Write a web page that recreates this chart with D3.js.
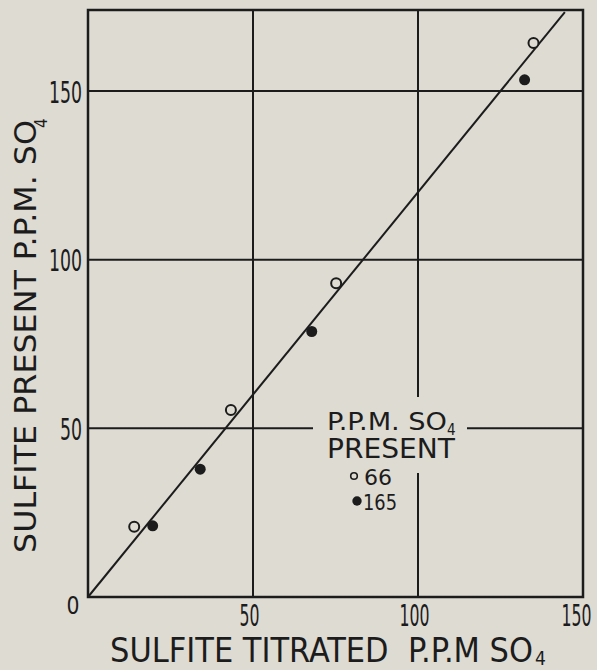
<!DOCTYPE html>
<html>
<head>
<meta charset="utf-8">
<script src="https://cdn.jsdelivr.net/npm/d3@7"></script>
<style>
  html, body { margin: 0; padding: 0; background: #dedbd3; }
  svg { display: block; }
  text { font-family: "Liberation Sans Narrow", "DejaVu Sans Condensed", sans-serif; fill: #1c1c1c; }
</style>
</head>
<body>
<div id="chart"></div>
<script>
// values
var xTicks = [50, 100, 150];
var yTicks = [50, 100, 150];
var xGrid = [50, 100];
var yGrid = [50, 100, 150];

var open66X = [14.0, 43.3, 75.2, 135.0];
var open66Y = [20.8, 55.4, 93.0, 164.2];
var filled165X = [19.6, 34.0, 67.8, 132.3];
var filled165Y = [21.1, 37.9, 78.7, 153.3];

var fitX = [0, 144.5];
var fitY = [0, 173.4];

var xMax = 150, yMax = 174;

var width = 597, height = 670;
var ink = "#1c1c1c", paper = "#dedbd3";

var x = d3.scaleLinear().domain([0, xMax]).range([88, 583]);
var y = d3.scaleLinear().domain([0, yMax]).range([597, 10]);

var svg = d3.select("#chart").append("svg")
    .attr("width", width)
    .attr("height", height);

svg.append("rect")
    .attr("width", width)
    .attr("height", height)
    .attr("fill", paper);

// grid
svg.selectAll(".vgrid")
    .data(xGrid)
    .enter().append("line")
    .attr("class", "vgrid")
    .attr("x1", function (d) { return x(d); })
    .attr("x2", function (d) { return x(d); })
    .attr("y1", y(0))
    .attr("y2", y(yMax))
    .attr("stroke", ink)
    .attr("stroke-width", 2);

svg.selectAll(".hgrid")
    .data(yGrid)
    .enter().append("line")
    .attr("class", "hgrid")
    .attr("x1", x(0))
    .attr("x2", x(xMax))
    .attr("y1", function (d) { return y(d); })
    .attr("y2", function (d) { return y(d); })
    .attr("stroke", ink)
    .attr("stroke-width", 2);

// frame
svg.append("rect")
    .attr("x", x(0))
    .attr("y", y(yMax))
    .attr("width", x(xMax) - x(0))
    .attr("height", y(0) - y(yMax))
    .attr("fill", "none")
    .attr("stroke", ink)
    .attr("stroke-width", 2.5);

// fitted line
var line = d3.line()
    .x(function (d) { return x(d[0]); })
    .y(function (d) { return y(d[1]); });

svg.append("path")
    .datum(d3.zip(fitX, fitY))
    .attr("d", line)
    .attr("fill", "none")
    .attr("stroke", ink)
    .attr("stroke-width", 2);

// points
svg.selectAll(".open")
    .data(d3.zip(open66X, open66Y))
    .enter().append("circle")
    .attr("class", "open")
    .attr("cx", function (d) { return x(d[0]); })
    .attr("cy", function (d) { return y(d[1]); })
    .attr("r", 5)
    .attr("fill", paper)
    .attr("stroke", ink)
    .attr("stroke-width", 2);

svg.selectAll(".filled")
    .data(d3.zip(filled165X, filled165Y))
    .enter().append("circle")
    .attr("class", "filled")
    .attr("cx", function (d) { return x(d[0]); })
    .attr("cy", function (d) { return y(d[1]); })
    .attr("r", 5.5)
    .attr("fill", ink);

// axes (labels only)
var xAxis = d3.axisBottom(x).tickValues(xTicks).tickSize(0).tickPadding(0);
var yAxis = d3.axisLeft(y).tickValues(yTicks).tickSize(0).tickPadding(6);

var gx = svg.append("g")
    .attr("transform", "translate(-4," + y(0) + ")")
    .call(xAxis);
var gy = svg.append("g")
    .attr("transform", "translate(" + x(0) + ",0)")
    .call(yAxis);

[gx, gy].forEach(function (g) {
    g.select(".domain").remove();
    g.selectAll("text")
        .attr("font-family", null)
        .style("font-size", "31px")
        .attr("fill", ink)
        .attr("lengthAdjust", "spacingAndGlyphs")
        .attr("textLength", function (d) { return String(d).length * 11; });
});
gx.selectAll("text").attr("dy", null).attr("y", 29)
    .attr("x", function (d) { return d === xMax ? -3 : 0; })
    .attr("textLength", function (d) { return String(d).length * 10; });
gy.selectAll("text").attr("dy", null).attr("y", 0).attr("dy", "0.36em");

svg.append("text")
    .attr("x", x(0) - 15)
    .attr("y", y(0) + 17)
    .attr("text-anchor", "middle")
    .style("font-size", "25px")
    .attr("lengthAdjust", "spacingAndGlyphs")
    .attr("textLength", 13)
    .text("0");

// x title
svg.append("text")
    .attr("x", 110)
    .attr("y", 662)
    .style("font-size", "33px")
    .attr("lengthAdjust", "spacingAndGlyphs")
    .attr("textLength", 423)
    .attr("xml:space", "preserve")
    .text("SULFITE TITRATED  P.P.M SO");
svg.append("text")
    .attr("x", 535)
    .attr("y", 665)
    .style("font-size", "19px")
    .text("4");

// y title
var yt = svg.append("g").attr("transform", "translate(36,553) rotate(-90)");
yt.append("text")
    .attr("x", 0)
    .attr("y", 0)
    .style("font-size", "30px")
    .attr("lengthAdjust", "spacingAndGlyphs")
    .attr("textLength", 433)
    .text("SULFITE PRESENT P.P.M. SO");
yt.append("text")
    .attr("x", 425)
    .attr("y", 11)
    .style("font-size", "17px")
    .text("4");

// legend
var legend = svg.append("g");
legend.append("rect")
    .attr("x", 313)
    .attr("y", 397)
    .attr("width", 154)
    .attr("height", 76)
    .attr("fill", paper);

legend.append("text")
    .attr("x", 327).attr("y", 430)
    .style("font-size", "24px")
    .attr("lengthAdjust", "spacingAndGlyphs")
    .attr("textLength", 120)
    .text("P.P.M. SO");
legend.append("text")
    .attr("x", 447).attr("y", 435)
    .style("font-size", "15px")
    .text("4");
legend.append("text")
    .attr("x", 327).attr("y", 458)
    .style("font-size", "26px")
    .attr("lengthAdjust", "spacingAndGlyphs")
    .attr("textLength", 128)
    .text("PRESENT");

var legendItems = [{ label: "66", open: true }, { label: "165", open: false }];
var li = legend.selectAll(".item")
    .data(legendItems)
    .enter().append("g")
    .attr("class", "item")
    .attr("transform", function (d, i) { return "translate(0," + (i * 25) + ")"; });

li.append("circle")
    .attr("cx", function (d) { return d.open ? 354 : 357; })
    .attr("cy", 476)
    .attr("r", function (d) { return d.open ? 3.3 : 4.7; })
    .attr("fill", function (d) { return d.open ? paper : ink; })
    .attr("stroke", ink)
    .attr("stroke-width", function (d) { return d.open ? 1.6 : 0; });

li.append("text")
    .attr("x", function (d) { return d.open ? 364 : 363; })
    .attr("y", 485)
    .style("font-size", "22px")
    .attr("lengthAdjust", "spacingAndGlyphs")
    .attr("textLength", function (d) { return d.open ? 28 : 34; })
    .text(function (d) { return d.label; });
</script>
</body>
</html>
